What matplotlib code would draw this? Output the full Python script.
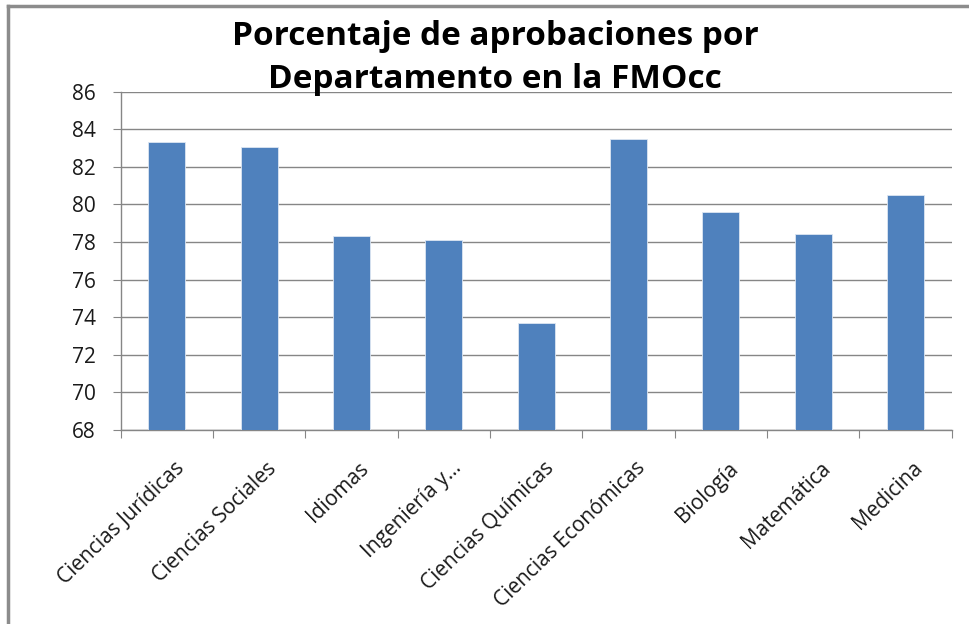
import matplotlib.pyplot as plt
import numpy as np

# Datos
departamentos = ["Ciencias Jurídicas", "Ciencias Sociales", "Idiomas", "Ingeniería y...",
                 "Ciencias Químicas", "Ciencias Económicas", "Biología", "Matemática", "Medicina"]
porcentajes = [83.31, 83.06, 78.34, 78.10, 73.68, 83.48, 79.60, 78.41, 80.52]
y_ticks = [68, 70, 72, 74, 76, 78, 80, 82, 84, 86]

plt.rcParams['font.family'] = ['Open Sans', 'DejaVu Sans']

W, H = 969, 624
fig = plt.figure(figsize=(W / 100, H / 100), dpi=100)

# Ejes en coordenadas de pixel
left, right, top, bottom = 120.7, 951.7, 91.7, 430.0
ax = fig.add_axes([left / W, 1 - bottom / H, (right - left) / W, (bottom - top) / H])

x = np.arange(len(departamentos))
ax.bar(x, porcentajes, width=0.4, color="#4F81BD", edgecolor="#DCE6F2", linewidth=0.6, zorder=3)

ax.set_xlim(-0.5, len(departamentos) - 0.5)
ax.set_ylim(68, 86)
ax.set_yticks(y_ticks)
ax.tick_params(axis="y", labelsize=15, length=6, color="#868686", pad=12, labelcolor="#1a1a1a")

# Marcas del eje x entre categorias
ax.set_xticks(np.arange(-0.5, len(departamentos), 1.0))
ax.set_xticklabels([])
ax.tick_params(axis="x", length=6, color="#868686")
for i, nombre in enumerate(departamentos):
    ax.annotate(nombre, xy=(i, 68), xycoords="data", xytext=(5, -20), textcoords="offset points",
                rotation=44, ha="right", va="top", rotation_mode="anchor", fontsize=15,
                color="#1a1a1a")

ax.grid(axis="y", color="#868686", linewidth=1.0, zorder=0)
for s in ["top", "right"]:
    ax.spines[s].set_visible(False)
for s in ["left", "bottom"]:
    ax.spines[s].set_color("#868686")
    ax.spines[s].set_linewidth(1.0)

# Titulo
fig.text(495 / W, 1 - 58 / H, "Porcentaje de aprobaciones por\nDepartamento en la FMOcc",
         ha="center", va="center", fontsize=24, fontweight="bold", linespacing=1.4)

# Borde del grafico
fig.add_artist(plt.Line2D([8 / W, 8 / W], [0, 1 - 6 / H], transform=fig.transFigure,
                          color="#8C8C8C", linewidth=2.5))
fig.add_artist(plt.Line2D([8 / W, 1], [1 - 6 / H, 1 - 6 / H], transform=fig.transFigure,
                          color="#8C8C8C", linewidth=2.5))

plt.savefig("out.png", dpi=100)
plt.close()
